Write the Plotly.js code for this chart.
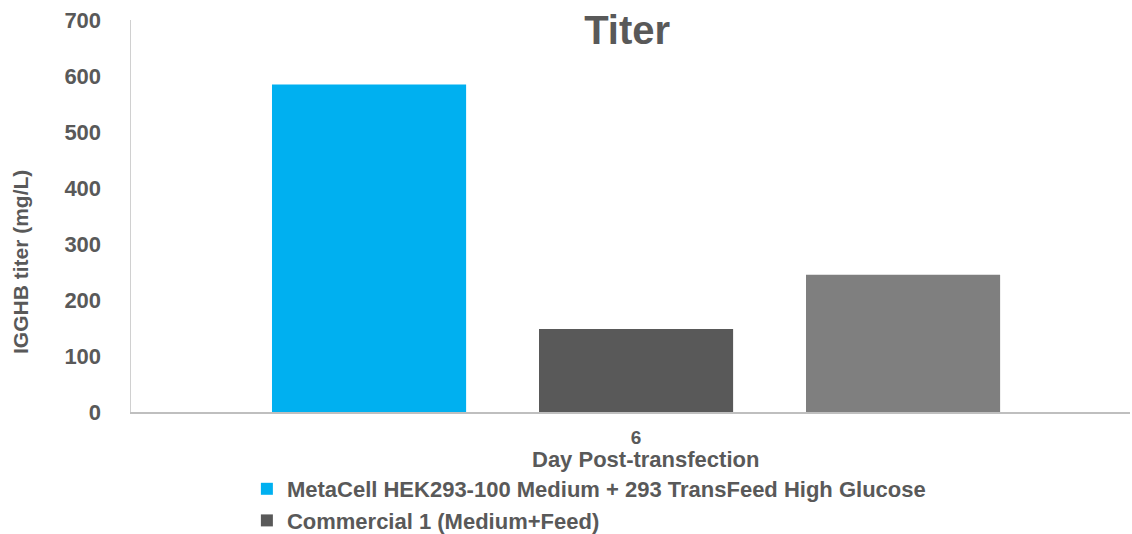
<!DOCTYPE html>
<html>
<head>
<meta charset="utf-8">
<script src="https://cdn.plot.ly/plotly-3.0.1.min.js"></script>
<style>html,body{margin:0;padding:0;background:#fff;}#chart{width:1132px;height:534px;}</style>
</head>
<body>
<div id="chart"></div>
<script>
const categories = ["6"];
const seriesNames = ["MetaCell HEK293-100 Medium + 293 TransFeed High Glucose", "Commercial 1 (Medium+Feed)", "Series 3"];
const seriesValues = [[585], [148], [245]];
const seriesColors = ["#00B0F0", "#595959", "#7F7F7F"];
const showInLegend = [true, true, false];
const yTicks = [0, 100, 200, 300, 400, 500, 600, 700];
const yTitle = "IGGHB titer (mg/L)";
const xTitle = "Day Post-transfection";
const chartTitle = "Titer";

const textColor = "#595959";
const fontFam = "Liberation Sans, Arial, sans-serif";

const traces = seriesNames.map((n, i) => ({
  type: "bar",
  name: n,
  x: categories,
  y: seriesValues[i],
  marker: {color: seriesColors[i]},
  showlegend: showInLegend[i],
  hoverinfo: "y"
}));

const layout = {
  width: 1132, height: 534,
  margin: {l: 131, r: 2, t: 20, b: 122, autoexpand: false},
  paper_bgcolor: "#fff", plot_bgcolor: "#fff",
  font: {family: fontFam, color: textColor, size: 21, weight: "bold"},
  title: {text: chartTitle, font: {size: 40, color: textColor, family: fontFam, weight: "bold"},
          xref: "container", yref: "container", x: 0.554, y: 1 - 30/534, xanchor: "center", yanchor: "middle"},
  barmode: "group",
  bargap: 0.207,
  bargroupgap: 0.273,
  xaxis: {
    type: "category",
    range: [-0.5, 0.489],
    automargin: false,
    showline: true, linecolor: "#bfbfbf", linewidth: 1.5,
    showgrid: false, zeroline: false, ticks: "",
    tickfont: {size: 19, color: textColor, weight: "bold"},
    ticklabelstandoff: 8
  },
  yaxis: {
    range: [0, 700],
    tickvals: yTicks,
    automargin: false,
    showline: true, linecolor: "#d0d0d0", linewidth: 1.5,
    showgrid: false, zeroline: false, ticks: "",
    tickfont: {size: 22, color: textColor, weight: "bold"},
    ticklabelstandoff: 24
  },
  annotations: [{
    text: yTitle, textangle: -90, showarrow: false,
    xref: "paper", yref: "paper",
    x: (20 - 131) / 999, y: (412 - 262) / 392,
    xanchor: "center", yanchor: "middle",
    font: {size: 21, color: textColor, weight: "bold"}
  }, {
    text: xTitle, showarrow: false,
    xref: "paper", yref: "paper",
    x: (645 - 131) / 999, y: (412 - 459) / 392,
    xanchor: "center", yanchor: "middle",
    font: {size: 22, color: textColor, weight: "bold"}
  }],
  legend: {
    orientation: "v", x: 0.116, y: 1 - 468/534, xanchor: "left", yanchor: "top",
    yref: "container",
    font: {size: 22, color: textColor, weight: "bold"},
    tracegroupgap: 0, itemwidth: 30
  },
  showlegend: true
};

Plotly.newPlot("chart", traces, layout, {displayModeBar: false, staticPlot: true});
</script>
</body>
</html>
